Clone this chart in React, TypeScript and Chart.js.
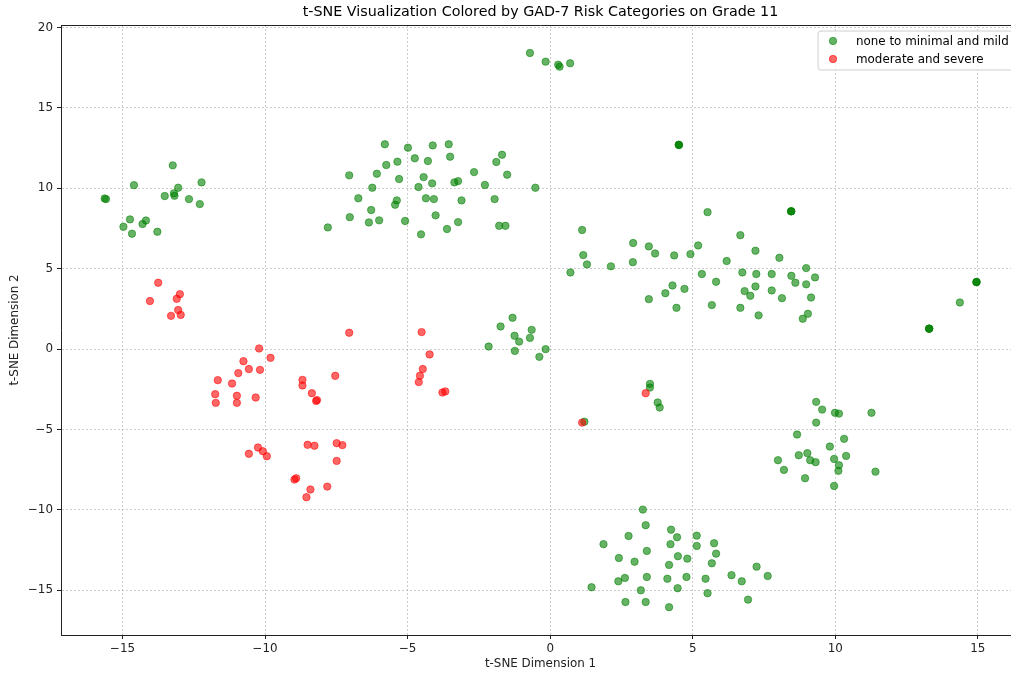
import React, { useEffect, useRef } from "react";
import { Chart, registerables } from "chart.js";

Chart.register(...registerables);

const TITLE = "t-SNE Visualization Colored by GAD-7 Risk Categories on Grade 11";
const X_LABEL = "t-SNE Dimension 1";
const Y_LABEL = "t-SNE Dimension 2";
const CATEGORIES = ["none to minimal and mild", "moderate and severe"];
const X_TICKS = [-15, -10, -5, 0, 5, 10, 15];
const Y_TICKS = [-15, -10, -5, 0, 5, 10, 15, 20];
const X_RANGE = [-17.16, 16.48];
const Y_RANGE = [-17.78, 20.16];

const greenX = [
  -13.24, -14.6, -12.23, -13.05, -15.63, -15.58, -13.52, -13.2, -13.18, -12.67, -12.29, -14.74, -14.18, -14.3, -14.97, -14.67, -13.78,
  -5.8, -4.12, -3.56, -4.99, -1.69, -1.89, -4.75, -3.51, -5.36, -4.29, -5.75, -2.67, -1.51, -7.05, -6.08, -4.44, -5.3, -4.14, -3.36,
  -3.23, -2.29, -6.24, -4.62, -0.52, -6.73, -5.38, -5.44, -4.36, -4.08, -3.11, -1.95, -6.28, -7.03, -6.0, -6.36, -5.09, -4.02, -3.23,
  -3.62, -4.53, -1.79, -1.57, -7.8,
  -0.71, -0.16, 0.28, 0.33, 0.7,
  4.51, 4.51, 4.52,
  5.52, 8.45, 8.45, 8.46, 1.12, 6.67, 2.91, 3.46, 5.19, 7.2, 1.16, 3.68, 4.35, 4.92, 8.04, 1.29, 2.13, 2.9, 6.19, 0.71, 5.32, 6.74,
  7.23, 7.77, 8.46, 8.98, 8.6, 9.29, 8.98, 5.82, 4.29, 4.71, 4.04, 3.46, 6.82, 7.2, 7.02, 7.77, 8.13, 9.15, 4.43, 5.67, 6.67, 7.31,
  9.04, 8.86,
  14.95, 14.95, 14.96, 14.37, 13.29, 13.29, 13.3,
  -1.32, -1.74, -0.65, -1.25, -0.71, -1.09, -2.16, -0.16, -1.24, -0.38,
  3.5, 3.5, 3.77, 3.84, 1.2,
  9.33, 9.54, 9.99, 10.13, 11.27, 9.33, 8.66, 10.31, 9.81, 9.02, 8.72, 10.38, 7.99, 9.12, 9.31, 9.96, 10.13, 10.11, 8.2, 11.41, 8.94, 9.96,
  3.25, 3.35, 4.24, 2.75, 4.45, 5.14, 1.87, 4.22, 5.14, 5.75, 3.39, 5.82, 2.41, 4.48, 4.81, 2.96, 5.67, 4.17, 7.24, 2.62, 2.39, 3.39,
  4.11, 4.78, 5.45, 6.36, 6.72, 7.63, 1.45, 3.18, 4.47, 5.52, 2.64, 3.35, 6.94, 4.17,
];
const greenY = [
  11.43, 10.2, 10.37, 10.04, 9.37, 9.33, 9.52, 9.69, 9.54, 9.33, 9.02, 8.07, 8.0, 7.78, 7.61, 7.18, 7.3,
  12.74, 12.67, 12.74, 12.53, 12.09, 11.64, 11.87, 11.97, 11.66, 11.7, 11.45, 11.01, 10.85, 10.81, 10.91, 10.7, 10.58, 10.31, 10.37,
  10.45, 10.21, 10.04, 10.08, 10.04, 9.38, 9.25, 8.98, 9.38, 9.33, 9.25, 9.33, 8.65, 8.21, 8.01, 7.88, 7.97, 8.32, 7.9,
  7.47, 7.14, 7.67, 7.67, 7.57,
  18.42, 17.88, 17.69, 17.57, 17.78,
  12.71, 12.71, 12.69,
  8.52, 8.57, 8.57, 8.58, 7.41, 7.09, 6.6, 6.39, 6.45, 6.12, 5.85, 5.95, 5.83, 5.91, 5.68, 5.27, 5.15, 5.41, 5.48, 4.77, 4.67, 4.77,
  4.67, 4.67, 4.56, 5.04, 4.13, 4.46, 4.03, 4.19, 3.96, 3.75, 3.48, 3.11, 3.61, 3.9, 3.32, 3.65, 3.17, 3.21, 2.57, 2.74, 2.57, 2.1,
  2.2, 1.89,
  4.17, 4.17, 4.18, 2.9, 1.27, 1.27, 1.28,
  1.95, 1.41, 1.2, 0.83, 0.7, 0.47, 0.16, 0.0, -0.11, -0.48,
  -2.16, -2.39, -3.32, -3.63, -4.51,
  -3.28, -3.76, -3.96, -4.01, -3.96, -4.57, -5.31, -5.58, -6.06, -6.47, -6.6, -6.64, -6.91, -6.91, -7.03, -6.83, -7.22, -7.57, -7.51,
  -7.62, -8.03, -8.51,
  -9.98, -10.95, -11.23, -11.62, -11.7, -11.6, -12.13, -12.13, -12.24, -12.07, -12.55, -12.72, -12.99, -12.88, -13.03, -13.22, -13.32,
  -13.42, -13.53, -14.23, -14.44, -14.17, -14.28, -14.17, -14.28, -14.06, -14.44, -14.11, -14.81, -15.0, -14.87, -15.18, -15.73,
  -15.73, -15.58, -16.05,
];

const redX = [
  -13.75, -12.99, -13.1, -14.04, -13.05, -13.3, -12.96,
  -7.05, -4.51, -10.21, -9.81, -10.76, -4.23, -10.57, -10.18, -10.94, -4.47, -7.54, -11.66, -8.69, -8.69, -11.16, -4.57, -4.61,
  -8.36, -3.78, -3.68, -11.75, -10.99, -10.33, -8.21, -8.18, -11.73, -10.99, -10.25, -10.08, -10.57, -9.94, -8.51, -8.27, -7.49,
  -7.29, -7.49, -8.97, -8.91, -7.82, -8.41, -8.55,
  3.35, 1.12,
];
const redY = [
  4.13, 3.42, 3.13, 2.99, 2.43, 2.07, 2.13,
  1.02, 1.06, 0.04, -0.54, -0.75, -0.33, -1.24, -1.29, -1.49, -1.24, -1.66, -1.93, -1.91, -2.26, -2.14, -1.66, -2.05,
  -2.74, -2.7, -2.63, -2.8, -2.9, -3.01, -3.22, -3.17, -3.34, -3.34, -6.12, -6.35, -6.51, -6.66, -5.95, -6.01, -5.85,
  -5.97, -6.95, -8.11, -8.03, -8.55, -8.73, -9.21,
  -2.74, -4.57,
];

const FONT = "'DejaVu Sans', sans-serif";
const GREEN = "rgba(0,128,0,0.6)";
const RED = "rgba(255,0,0,0.6)";

const fmt = (v: number) => (v < 0 ? "\u2212" + Math.abs(v) : String(v));

const decorPlugin = {
  id: "decor",
  afterDraw(chart: any) {
    const { ctx, chartArea: ca } = chart;
    ctx.save();
    ctx.setLineDash([]);
    // top and right spines
    ctx.strokeStyle = "#222";
    ctx.lineWidth = 1;
    ctx.beginPath();
    ctx.moveTo(ca.left, ca.top + 0.5);
    ctx.lineTo(ca.right, ca.top + 0.5);
    ctx.moveTo(ca.right - 0.5, ca.top);
    ctx.lineTo(ca.right - 0.5, ca.bottom);
    ctx.stroke();
    // title
    ctx.fillStyle = "#000";
    ctx.font = `14.3px ${FONT}`;
    ctx.textAlign = "center";
    ctx.textBaseline = "middle";
    ctx.fillText(TITLE, (ca.left + ca.right) / 2, 12);
    // legend
    const bx = ca.right - 202;
    const by = ca.top + 6;
    const bw = 195;
    const bh = 39;
    ctx.beginPath();
    const r = 3;
    ctx.moveTo(bx + r, by);
    ctx.lineTo(bx + bw - r, by);
    ctx.arcTo(bx + bw, by, bx + bw, by + r, r);
    ctx.lineTo(bx + bw, by + bh - r);
    ctx.arcTo(bx + bw, by + bh, bx + bw - r, by + bh, r);
    ctx.lineTo(bx + r, by + bh);
    ctx.arcTo(bx, by + bh, bx, by + bh - r, r);
    ctx.lineTo(bx, by + r);
    ctx.arcTo(bx, by, bx + r, by, r);
    ctx.closePath();
    ctx.fillStyle = "rgba(255,255,255,0.8)";
    ctx.fill();
    ctx.strokeStyle = "#cfcfcf";
    ctx.lineWidth = 1;
    ctx.stroke();
    chart.data.datasets.forEach((ds: any, i: number) => {
      const cy = by + 10 + i * 18;
      ctx.beginPath();
      ctx.arc(bx + 15, cy, ds.pointRadius, 0, Math.PI * 2);
      ctx.fillStyle = ds.backgroundColor;
      ctx.fill();
      ctx.lineWidth = ds.borderWidth;
      ctx.strokeStyle = ds.borderColor;
      ctx.stroke();
      ctx.fillStyle = "#000";
      ctx.font = `11.9px ${FONT}`;
      ctx.textAlign = "left";
      ctx.textBaseline = "middle";
      ctx.fillText(ds.label, bx + 38, cy + 1);
    });
    ctx.restore();
  },
};

export default function App() {
  const ref = useRef<HTMLCanvasElement | null>(null);
  useEffect(() => {
    if (!ref.current) return;
    const toPts = (xs: number[], ys: number[]) => xs.map((x, i) => ({ x, y: ys[i] }));
    const gridCommon = {
      color: "rgba(150,150,150,0.6)",
      lineWidth: 0.8,
      tickColor: "#222",
      tickLength: 4,
      tickWidth: 1,
      tickBorderDash: [],
      drawTicks: true,
    };
    const borderCommon = { display: true, color: "#222", width: 1, dash: [2, 2] };
    const chart = new Chart(ref.current, {
      type: "scatter",
      data: {
        datasets: [
          {
            label: CATEGORIES[0],
            data: toPts(greenX, greenY),
            backgroundColor: GREEN,
            borderColor: GREEN,
            borderWidth: 0.9,
            pointRadius: 3.7,
            order: 1,
          },
          {
            label: CATEGORIES[1],
            data: toPts(redX, redY),
            backgroundColor: RED,
            borderColor: RED,
            borderWidth: 0.9,
            pointRadius: 3.7,
            order: 0,
          },
        ],
      },
      plugins: [decorPlugin],
      options: {
        animation: false,
        responsive: false,
        devicePixelRatio: 1,
        layout: { padding: { left: 0, top: 25, right: 20, bottom: 0 } },
        plugins: { legend: { display: false }, title: { display: false }, tooltip: { enabled: false } },
        scales: {
          x: {
            type: "linear",
            min: X_RANGE[0],
            max: X_RANGE[1],
            afterBuildTicks: (s: any) => {
              s.ticks = X_TICKS.map((v) => ({ value: v }));
            },
            afterFit: (s: any) => {
              s.height = 40;
            },
            grid: gridCommon,
            border: borderCommon,
            ticks: {
              color: "#222",
              padding: 3,
              font: { family: FONT, size: 11.9 },
              callback: (v: any) => fmt(Number(v)),
              maxRotation: 0,
            },
            title: {
              display: true,
              text: X_LABEL,
              color: "#222",
              font: { family: FONT, size: 11.9 },
              padding: { top: 0, bottom: 4 },
            },
          },
          y: {
            type: "linear",
            min: Y_RANGE[0],
            max: Y_RANGE[1],
            afterBuildTicks: (s: any) => {
              s.ticks = Y_TICKS.map((v) => ({ value: v }));
            },
            afterFit: (s: any) => {
              s.width = 61;
            },
            grid: gridCommon,
            border: borderCommon,
            ticks: {
              color: "#222",
              padding: 4,
              font: { family: FONT, size: 11.9 },
              callback: (v: any) => fmt(Number(v)),
            },
            title: {
              display: true,
              text: Y_LABEL,
              color: "#222",
              font: { family: FONT, size: 11.9 },
              padding: { top: 8, bottom: 0 },
            },
          },
        },
      },
    } as any);
    return () => chart.destroy();
  }, []);
  return (
    <div
      style={{
        position: "fixed",
        left: 0,
        top: 0,
        width: 1011,
        height: 675,
        overflow: "hidden",
        background: "#fff",
      }}
    >
      <canvas ref={ref} width={1040} height={675} style={{ display: "block", width: 1040, height: 675 }} />
    </div>
  );
}
